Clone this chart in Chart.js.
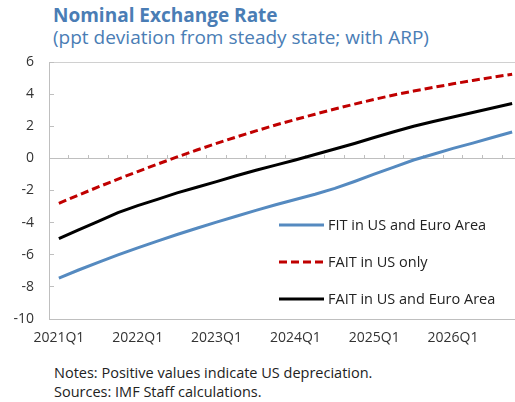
<!DOCTYPE html>
<html><head><meta charset="utf-8">
<script src="https://cdn.jsdelivr.net/npm/chart.js@4/dist/chart.umd.min.js"></script>
<style>
html,body{margin:0;padding:0;width:515px;height:402px;overflow:hidden;background:#fff;font-family:"Open Sans",sans-serif;}
#c{position:absolute;left:0;top:0;}
.t{position:absolute;left:53px;white-space:nowrap;color:#4a7db5;font-size:19px;line-height:22px;}
.n{position:absolute;left:54px;white-space:nowrap;color:#222;font-size:14.5px;line-height:18px;}
.lg{position:absolute;left:279px;white-space:nowrap;color:#222;font-size:14.5px;line-height:18px;}
.lg svg{position:absolute;left:0;top:7px;}
.lg span{position:absolute;left:49px;top:0;}
</style></head><body>
<div class="t" style="top:4px;font-weight:bold">Nominal Exchange Rate</div>
<div class="t" style="top:26px">(ppt deviation from steady state; with ARP)</div>
<canvas id="c" width="540" height="349"></canvas>
<div id="legend"></div>
<div class="n" style="top:364px">Notes: Positive values indicate US depreciation.</div>
<div class="n" style="top:383px">Sources: IMF Staff calculations.</div>
<script>
const quarters = ["2021Q1","2021Q2","2021Q3","2021Q4","2022Q1","2022Q2","2022Q3","2022Q4",
  "2023Q1","2023Q2","2023Q3","2023Q4","2024Q1","2024Q2","2024Q3","2024Q4",
  "2025Q1","2025Q2","2025Q3","2025Q4","2026Q1","2026Q2","2026Q3","2026Q4"];
const seriesNames = ["FIT in US and Euro Area","FAIT in US only","FAIT in US and Euro Area"];
const fitUsEa = [-7.45,-6.95,-6.47,-6.01,-5.57,-5.15,-4.74,-4.35,-3.97,-3.60,-3.24,-2.89,
  -2.56,-2.23,-1.87,-1.44,-0.98,-0.54,-0.10,0.26,0.62,0.95,1.30,1.64];
const faitUs = [-2.80,-2.28,-1.78,-1.29,-0.82,-0.36,0.09,0.52,0.93,1.33,1.71,2.08,
  2.42,2.75,3.07,3.38,3.67,3.95,4.19,4.42,4.64,4.85,5.05,5.24];
const faitUsEa = [-5.00,-4.45,-3.92,-3.38,-2.94,-2.55,-2.15,-1.80,-1.45,-1.08,-0.74,-0.42,
  -0.10,0.24,0.58,0.93,1.30,1.66,2.00,2.30,2.58,2.86,3.14,3.42];
const yMin = -10, yMax = 6, yStep = 2;

const colors = ["#558ac0","#c00000","#000000"];
const dashes = [[],[8,4],[]];
const seriesData = [fitUsEa, faitUs, faitUsEa];
const axisGray = "#bfbfbf";
const tickFont = {family:"Open Sans", size:14};

// HTML legend
const legendTops = [216, 253, 290];
const lg = document.getElementById('legend');
seriesNames.forEach((name,i)=>{
  const d = document.createElement('div');
  d.className = 'lg';
  d.style.top = legendTops[i] + 'px';
  d.innerHTML = '<svg width="45" height="4"><line x1="0" y1="2" x2="45" y2="2" stroke="'+colors[i]+'" stroke-width="3"'+
    (dashes[i].length ? ' stroke-dasharray="'+dashes[i].join(' ')+'"' : '') + '/></svg><span></span>';
  d.querySelector('span').textContent = name;
  lg.appendChild(d);
});

new Chart(document.getElementById('c'), {
  type: 'line',
  data: {
    labels: quarters,
    datasets: seriesNames.map((name,i)=>({
      label: name, data: seriesData[i], borderColor: colors[i], backgroundColor: colors[i],
      borderWidth: 3, borderDash: dashes[i], pointRadius: 0, tension: 0, fill: false
    }))
  },
  options: {
    responsive: false, animation: false, devicePixelRatio: 1,
    layout: {padding: {top: 62, right: 18, left: 0, bottom: 0}},
    plugins: {legend: {display: false}, tooltip: {enabled: false}, title: {display: false}},
    scales: {
      x: {
        type: 'category', offset: true,
        grid: {display: true, drawOnChartArea: false, drawTicks: false},
        border: {display: true, color: axisGray},
        ticks: {autoSkip: false, maxRotation: 0, padding: 11, color: '#333', font: tickFont,
          callback: (v,i) => (i % 4 === 0 ? quarters[i] : '')},
        afterFit: s => { s.height = 30; }
      },
      x2: {
        type: 'category', offset: true, position: {y: 0},
        grid: {display: true, drawOnChartArea: false, drawTicks: true, tickLength: -4, tickColor: axisGray, offset: true},
        border: {display: true, color: axisGray},
        ticks: {display: false}
      },
      y: {
        min: yMin, max: yMax,
        ticks: {stepSize: yStep, padding: 20, color: '#333', font: tickFont},
        grid: {color: c => (c.tick && c.tick.value === yMax ? '#d0d0d0' : 'rgba(0,0,0,0)'),
               tickColor: axisGray, tickLength: -5, drawTicks: true},
        border: {display: true, color: axisGray},
        afterFit: s => { s.width = 49; }
      }
    }
  }
});
</script>
</body></html>
